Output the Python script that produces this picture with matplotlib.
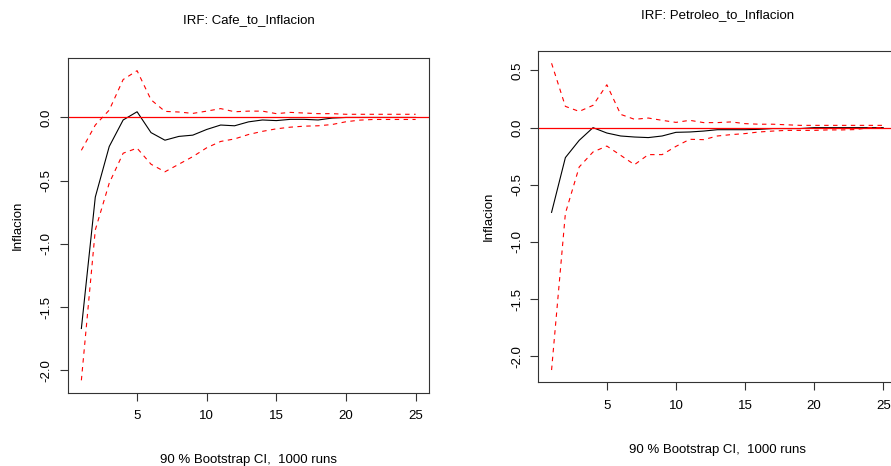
import matplotlib
matplotlib.use("Agg")
import matplotlib.pyplot as plt

plt.rcParams['font.family'] = ['Liberation Sans', 'DejaVu Sans']
plt.rcParams['axes.unicode_minus'] = False

# horizon steps
steps = list(range(1, 26))

# Cafe -> Inflacion
cafe_irf = [-1.67, -0.63, -0.23, -0.02, 0.045, -0.12, -0.18, -0.15, -0.14, -0.095,
            -0.06, -0.066, -0.035, -0.02, -0.025, -0.015, -0.015, -0.02, -0.005, 0.0,
            0.0, 0.0, 0.0, 0.0, 0.0]
cafe_upper = [-0.26, -0.06, 0.058, 0.30, 0.37, 0.14, 0.048, 0.043, 0.032, 0.05,
              0.07, 0.045, 0.05, 0.05, 0.03, 0.04, 0.035, 0.03, 0.03, 0.025,
              0.025, 0.025, 0.025, 0.025, 0.025]
cafe_lower = [-2.08, -0.89, -0.52, -0.283, -0.243, -0.37, -0.43, -0.37, -0.31, -0.24,
              -0.19, -0.17, -0.135, -0.11, -0.09, -0.077, -0.069, -0.066, -0.056, -0.034,
              -0.021, -0.016, -0.016, -0.016, -0.016]

# Petroleo -> Inflacion
pet_irf = [-0.741, -0.262, -0.111, 0.0, -0.047, -0.073, -0.082, -0.087, -0.073, -0.041,
           -0.038, -0.03, -0.018, -0.018, -0.018, -0.015, -0.008, -0.008, -0.008, 0.0,
           0.0, 0.0, 0.0, 0.0, 0.0]
pet_upper = [0.563, 0.186, 0.142, 0.195, 0.375, 0.116, 0.073, 0.084, 0.064, 0.046,
             0.064, 0.044, 0.044, 0.05, 0.035, 0.03, 0.03, 0.025, 0.02, 0.02,
             0.02, 0.02, 0.02, 0.02, 0.02]
pet_lower = [-2.12, -0.75, -0.344, -0.213, -0.161, -0.242, -0.324, -0.236, -0.236, -0.164,
             -0.102, -0.105, -0.073, -0.061, -0.052, -0.038, -0.03, -0.024, -0.024, -0.024,
             -0.02, -0.02, -0.017, 0.0, 0.0]

x_ticks = [5, 10, 15, 20, 25]
cafe_yticks = [0.0, -0.5, -1.0, -1.5, -2.0]
pet_yticks = [0.5, 0.0, -0.5, -1.0, -1.5, -2.0]

W, H = 891, 466
FS = 9.5


def r_lims(values):
    # R style 4% padding around the data range
    lo, hi = min(values), max(values)
    pad = (hi - lo) * 0.04
    return lo - pad, hi + pad


def draw_irf(rect, irf, upper, lower, yticks, title, title_y, caption_y):
    ax = fig.add_axes(rect)
    ax.plot(steps, irf, color='black', lw=0.8)
    ax.axhline(0, color='red', lw=0.9)
    ax.plot(steps, upper, color='red', lw=0.8, ls=(0, (4, 4)))
    ax.plot(steps, lower, color='red', lw=0.8, ls=(0, (4, 4)))

    ax.set_xlim(*r_lims(steps))
    ax.set_ylim(*r_lims(irf + upper + lower))
    ax.set_xticks(x_ticks)
    ax.set_xticklabels([str(t) for t in x_ticks])
    ax.set_yticks(yticks)
    ax.set_yticklabels(['%.1f' % v for v in yticks], rotation=90, va='center')
    ax.tick_params(direction='out', length=5.5, width=0.8, labelsize=FS, color='#333333')
    ax.tick_params(axis='x', pad=7)
    ax.tick_params(axis='y', pad=5.5)
    for sp in ax.spines.values():
        sp.set_linewidth(0.8)
        sp.set_color('#333333')
    ax.set_ylabel('Inflacion', fontsize=FS)
    ax.yaxis.set_label_coords(-0.122, 0.5)

    pos = ax.get_position()
    cx = pos.x0 + pos.width / 2
    fig.text(cx, 1 - title_y / H, title, ha='center', va='center', fontsize=FS)
    fig.text(cx, 1 - caption_y / H, '90 % Bootstrap CI,  1000 runs',
             ha='center', va='center', fontsize=FS)
    return ax


fig = plt.figure(figsize=(W / 100, H / 100), dpi=100)
fig.patch.set_facecolor('white')

draw_irf([68 / W, 1 - 392.7 / H, 361 / W, 334.4 / H],
         cafe_irf, cafe_upper, cafe_lower, cafe_yticks,
         'IRF: Cafe_to_Inflacion', 20, 460)
draw_irf([538.3 / W, 1 - 382.3 / H, 358.2 / W, 331.3 / H],
         pet_irf, pet_upper, pet_lower, pet_yticks,
         'IRF: Petroleo_to_Inflacion', 15, 450)

fig.savefig('out.png', dpi=100)
